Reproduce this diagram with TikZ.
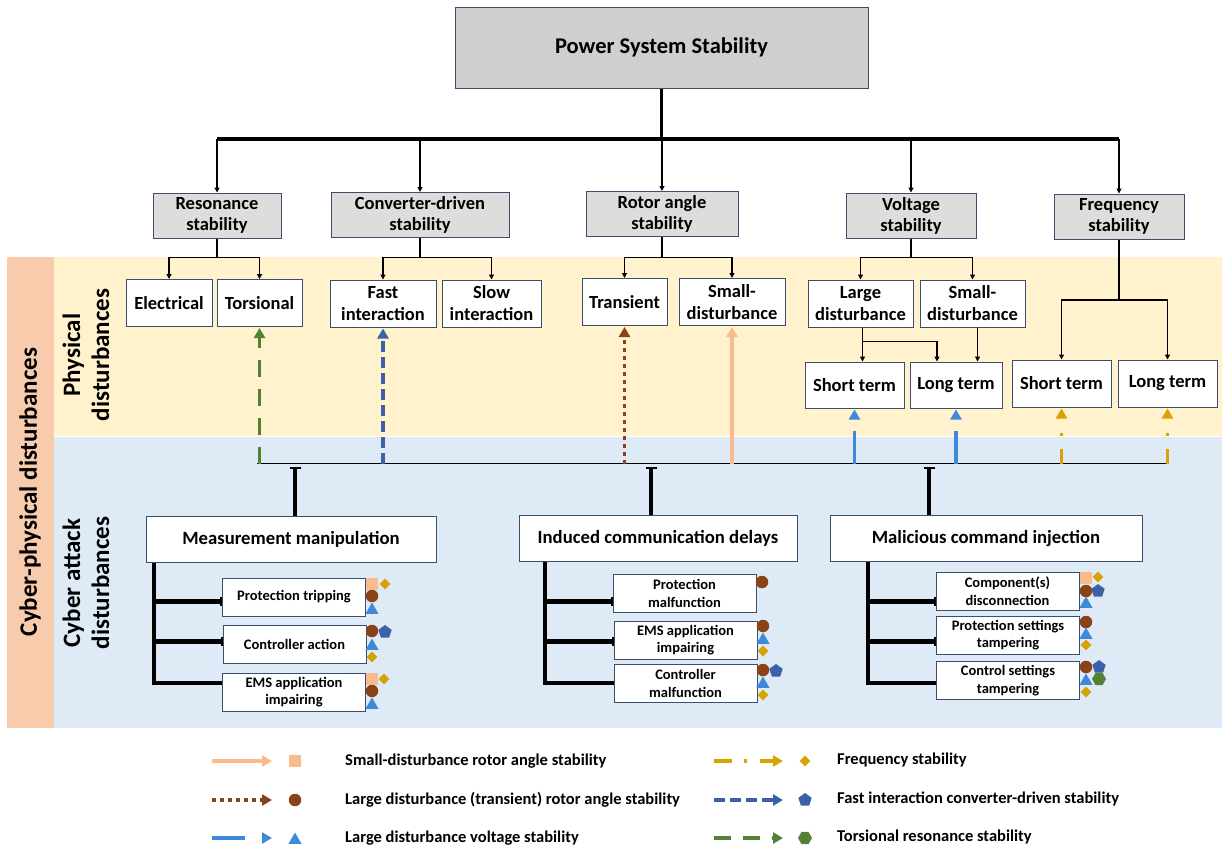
\documentclass[tikz,border=0pt]{standalone}
\usepackage{fontspec}
\setmainfont{Carlito}
\usetikzlibrary{arrows.meta,shapes.geometric}
\definecolor{peachbg}{HTML}{F8CBAD}
\definecolor{yellowbg}{HTML}{FFF2CC}
\definecolor{bluebg}{HTML}{DEEBF7}
\definecolor{topgray}{HTML}{D0CECE}
\definecolor{lgray}{HTML}{DEDCDC}
\definecolor{bord}{HTML}{3B4E6B}
\definecolor{cpeach}{HTML}{F8BB8E}
\definecolor{cbrown}{HTML}{8B4216}
\definecolor{cblue}{HTML}{3D8BD8}
\definecolor{cgold}{HTML}{D8A300}
\definecolor{cnavy}{HTML}{3B62A8}
\definecolor{cgreen}{HTML}{548235}
\begin{document}
\begin{tikzpicture}[x=1pt,y=-1pt,
 topbox/.style={draw=bord,fill=topgray,line width=1pt,inner sep=0pt,minimum width=413pt,minimum height=81pt,font=\fontsize{22.5}{26}\selectfont\bfseries},
 l2box/.style={draw=bord,fill=lgray,line width=1pt,inner sep=0pt,align=center,minimum height=45pt,font=\fontsize{18.5}{21}\selectfont\bfseries},
 wbox/.style={draw=bord,fill=white,line width=1pt,inner sep=0pt,align=center,minimum height=47pt,font=\fontsize{18.5}{22}\selectfont\bfseries},
 cbox/.style={draw=bord,fill=white,line width=1pt,inner sep=0pt,minimum height=46pt,font=\fontsize{18.7}{22}\selectfont\bfseries},
 sbox/.style={draw=bord,fill=white,line width=1pt,inner sep=0pt,align=center,minimum width=143pt,minimum height=38pt,font=\fontsize{14.5}{17.5}\selectfont\bfseries},
 vlab/.style={rotate=90,align=center,font=\fontsize{25}{29}\selectfont\bfseries},
 leg/.style={anchor=west,inner sep=0pt,font=\fontsize{16.5}{19}\selectfont\bfseries},
 drop/.style={line width=1.3pt,-{Triangle[length=5pt,width=5pt]}},
 busline/.style={line width=3.8pt},
 stemline/.style={line width=4.2pt,{Bar[width=11pt,line width=2pt]}-},
 subl/.style={line width=4.2pt},
 subt/.style={line width=4.2pt,-{Bar[width=9pt,line width=2pt]}},
 tipA/.style={-{Triangle[length=10pt,width=11pt]}},
 apeach/.style={draw=cpeach,line width=3.5pt,tipA},
 abrown/.style={draw=cbrown,line width=3.5pt,dash pattern=on 4pt off 4pt,tipA},
 ablue/.style={draw=cblue,line width=3.5pt,dash pattern=on 33pt off 40pt,tipA},
 agold/.style={draw=cgold,line width=3.5pt,dash pattern=on 15pt off 13pt on 3pt off 40pt,tipA},
 agoldleg/.style={draw=cgold,line width=3.5pt,dash pattern=on 18pt off 12pt on 3pt off 13pt on 40pt,tipA},
 anavy/.style={draw=cnavy,line width=3.5pt,dash pattern=on 11pt off 5pt,tipA},
 agreen/.style={draw=cgreen,line width=3.5pt,dash pattern=on 17pt off 12pt,tipA},
 msq/.style={rectangle,fill=cpeach,minimum size=12pt,inner sep=0pt},
 mci/.style={circle,fill=cbrown,minimum size=12.5pt,inner sep=0pt},
 mtr/.style={regular polygon,regular polygon sides=3,fill=cblue,minimum size=15pt,inner sep=0pt},
 mdi/.style={diamond,fill=cgold,minimum size=11pt,inner sep=0pt},
 mpe/.style={regular polygon,regular polygon sides=5,fill=cnavy,minimum size=14pt,inner sep=0pt},
 mhe/.style={regular polygon,regular polygon sides=6,fill=cgreen,minimum size=14pt,inner sep=0pt}
]
\useasboundingbox (0,0) rectangle (1222,852);
% backgrounds
\fill[peachbg] (7,257) rectangle (54,728);
\fill[yellowbg] (54,257) rectangle (1222,435.5);
\fill[bluebg] (54,437) rectangle (1222,728);

% vertical labels
\node[vlab] (cpd) at (30,492) {Cyber-physical disturbances};
\node[vlab] (phys) at (86,355) {Physical\\disturbances};
\node[vlab] (cyb) at (86,583) {Cyber attack\\disturbances};

% top
\node[topbox] (pss) at (661.5,47.5) {Power System Stability};
\node[l2box,minimum width=128pt] (res) at (217,215.5) {Resonance\\stability};
\node[l2box,minimum width=178pt] (conv) at (420,215) {Converter-driven\\stability};
\node[l2box,minimum width=152pt] (rot) at (662,214) {Rotor angle\\stability};
\node[l2box,minimum width=130pt] (volt) at (911,215.5) {Voltage\\stability};
\node[l2box,minimum width=130pt] (freq) at (1119,216.5) {Frequency\\stability};

\coordinate (busT) at (0,139);
\draw[busline] (pss.south) -- (pss.south |- busT);
\draw[busline] (busT -| res.north) -- (busT -| freq.north);
\foreach \n in {res,conv,rot,volt,freq}{\draw[drop] (busT -| \n.north) -- (\n.north);}

% level 3
\node[wbox,minimum width=86pt] (elec) at (169,303) {Electrical};
\node[wbox,minimum width=85pt] (tors) at (259.5,303) {Torsional};
\node[wbox,minimum width=106pt] (fast) at (383,303.5) {Fast\\interaction};
\node[wbox,minimum width=99pt] (slow) at (491.5,303.5) {Slow\\interaction};
\node[wbox,minimum width=85pt] (trans) at (624.5,302) {Transient};
\node[wbox,minimum width=106pt] (smallr) at (732,302) {Small-\\disturbance};
\node[wbox,minimum width=105pt] (large) at (860.5,303.5) {Large\\disturbance};
\node[wbox,minimum width=105pt] (smallv) at (972.5,303.5) {Small-\\disturbance};
\node[wbox,minimum width=99pt,minimum height=46pt] (stv) at (854.5,385) {Short term};
\node[wbox,minimum width=92pt,minimum height=46pt] (ltv) at (956,385) {Long term};
\node[wbox,minimum width=99pt] (stf) at (1061.5,383.5) {Short term};
\node[wbox,minimum width=99pt] (ltf) at (1167.5,383.5) {Long term};

\coordinate (yA) at (0,257.5);
\coordinate (yB) at (0,341.5);
\coordinate (yC) at (0,300);
\draw[drop] (res.south) -- (res.south |- yA) -| (elec.north);
\draw[drop] (res.south |- yA) -| (tors.north);
\draw[drop] (conv.south) -- (conv.south |- yA) -| (fast.north);
\draw[drop] (conv.south |- yA) -| (slow.north);
\draw[drop] (rot.south) -- (rot.south |- yA) -| (trans.north);
\draw[drop] (rot.south |- yA) -| (smallr.north);
\draw[drop] (volt.south) -- (volt.south |- yA) -| (large.north);
\draw[drop] (volt.south |- yA) -| (smallv.north);
\coordinate (lvA) at ([xshift=2pt]large.south);
\coordinate (ltA) at ([xshift=-19pt]ltv.north);
\coordinate (svA) at ([xshift=5pt]smallv.south);
\draw[drop] (lvA) -- (lvA |- stv.north);
\draw[drop] (lvA |- yB) -| (ltA);
\draw[drop] (svA) -- (svA |- ltv.north);
\draw[drop] (freq.south) -- (freq.south |- yC) -| (stf.north);
\draw[drop] (freq.south |- yC) -| (ltf.north);

% cyber bus
\coordinate (busL) at (257,463.5);
\coordinate (busR) at (1169,463.5);
\draw[line width=1.5pt] (busL) -- (busR);
\draw[agreen] (tors.south |- busL) -- ([yshift=-1pt]tors.south);
\draw[anavy] (fast.south |- busL) -- ([yshift=-1pt]fast.south);
\draw[abrown] (trans.south |- busL) -- ([yshift=-1pt]trans.south);
\draw[apeach] (smallr.south |- busL) -- ([yshift=-1pt]smallr.south);
\draw[ablue] (stv.south |- busL) -- ([yshift=-1pt]stv.south);
\draw[ablue] (ltv.south |- busL) -- ([yshift=-1pt]ltv.south);
\draw[agold] (stf.south |- busL) -- ([yshift=-1pt]stf.south);
\draw[agold] (ltf.south |- busL) -- ([yshift=-1pt]ltf.south);

% cyber boxes
\node[cbox,minimum width=290pt] (meas) at (291,539.5) {Measurement manipulation};
\node[cbox,minimum width=278pt] (ind) at (658,538) {Induced communication delays};
\node[cbox,minimum width=312pt] (mal) at (986,538) {Malicious command injection};
\coordinate (s1) at (295,466.5);
\coordinate (s2) at (651,466.5);
\coordinate (s3) at (929,466.5);
\draw[stemline] (s1) -- (s1 |- meas.north);
\draw[stemline] (s2) -- (s2 |- ind.north);
\draw[stemline] (s3) -- (s3 |- mal.north);

% sub boxes
\node[sbox] (pt) at (294,597) {Protection tripping};
\node[sbox] (ca) at (294.5,644) {Controller action};
\node[sbox] (ems1) at (294,692) {EMS application\\impairing};
\node[sbox] (pm) at (684.5,593.5) {Protection\\malfunction};
\node[sbox] (ems2) at (685.5,640) {EMS application\\impairing};
\node[sbox] (cm) at (685.5,683.5) {Controller\\malfunction};
\node[sbox] (cd) at (1007.5,591) {Component(s)\\disconnection};
\node[sbox] (pst) at (1008,635) {Protection settings\\tampering};
\node[sbox] (cst) at (1008,680.5) {Control settings\\tampering};

\coordinate (r1) at (0,601.5);
\coordinate (r2) at (0,641.5);
\coordinate (r3) at (0,683);
\coordinate (v1) at (154,0);
\coordinate (v2) at (545,0);
\coordinate (v3) at (868,0);
\draw[subl] (v1 |- meas.south) -- (v1 |- r3) -- (ems1.west |- r3);
\draw[subt] (v1 |- r1) -- (pt.west |- r1);
\draw[subt] (v1 |- r2) -- (ca.west |- r2);
\draw[subl] (v2 |- ind.south) -- (v2 |- r3) -- (cm.west |- r3);
\draw[subt] (v2 |- r1) -- (pm.west |- r1);
\draw[subt] (v2 |- r2) -- (ems2.west |- r2);
\draw[subl] (v3 |- mal.south) -- (v3 |- r3) -- (cst.west |- r3);
\draw[subt] (v3 |- r1) -- (cd.west |- r1);
\draw[subt] (v3 |- r2) -- (pst.west |- r2);

% markers: measurement
\node[msq] (a1) at (372,584) {};
\node[mdi] (a2) at (385,584) {};
\node[mci] (a3) at (372,596) {};
\node[mtr] (a4) at (372,610) {};
\node[mci] (b1) at (372,631) {};
\node[mpe] (b2) at (385,632) {};
\node[mtr] (b3) at (372,646) {};
\node[mdi] (b4) at (372,657) {};
\node[msq] (c1) at (372,679) {};
\node[mdi] (c2) at (384,679) {};
\node[mci] (c3) at (372,691) {};
\node[mtr] (c4) at (372,705) {};
% induced
\node[mci] (d1) at (762,582) {};
\node[mci] (e1) at (763,626) {};
\node[mtr] (e2) at (763,640) {};
\node[mdi] (e3) at (763,651) {};
\node[mci] (f1) at (763,670) {};
\node[mpe] (f2) at (776,671) {};
\node[mtr] (f3) at (763,684) {};
\node[mdi] (f4) at (763,695) {};
% malicious
\node[msq] (g1) at (1086,578) {};
\node[mdi] (g2) at (1098,577) {};
\node[mci] (g3) at (1086,591) {};
\node[mpe] (g4) at (1098,591) {};
\node[mtr] (g5) at (1086,604) {};
\node[mci] (h1) at (1086,622) {};
\node[mtr] (h2) at (1086,635) {};
\node[mdi] (h3) at (1086,645) {};
\node[mci] (i1) at (1086,667) {};
\node[mpe] (i2) at (1099,667) {};
\node[mhe] (i3) at (1099,679) {};
\node[mtr] (i4) at (1086,681) {};
\node[mdi] (i5) at (1086,692) {};

% legend
\coordinate (L1a) at (212,761); \coordinate (L1b) at (272,761);
\coordinate (L2a) at (212,800); \coordinate (L2b) at (272,800);
\coordinate (L3a) at (212,838); \coordinate (L3b) at (272,838);
\coordinate (R1a) at (714,761); \coordinate (R1b) at (783,761);
\coordinate (R2a) at (714,800); \coordinate (R2b) at (783,800);
\coordinate (R3a) at (714,838); \coordinate (R3b) at (783,838);
\draw[apeach] (L1a) -- (L1b);
\draw[abrown] (L2a) -- (L2b);
\draw[ablue] (L3a) -- (L3b);
\draw[agoldleg] (R1a) -- (R1b);
\draw[anavy] (R2a) -- (R2b);
\draw[agreen,dash pattern=on 17pt off 12pt] (R3a) -- (R3b);
\node[msq] (lm1) at (295,761) {};
\node[mci] (lm2) at (295,800) {};
\node[mtr] (lm3) at (295,840) {};
\node[mdi] (rm1) at (805,761) {};
\node[mpe] (rm2) at (805,800) {};
\node[mhe] (rm3) at (805,838) {};
\node[leg] (lt1) at (345,761) {Small-disturbance rotor angle stability};
\node[leg] (lt2) at (345,800) {Large disturbance (transient) rotor angle stability};
\node[leg] (lt3) at (345,838) {Large disturbance voltage stability};
\node[leg] (rt1) at (837,760) {Frequency stability};
\node[leg] (rt2) at (837,799) {Fast interaction converter-driven stability};
\node[leg] (rt3) at (837,837) {Torsional resonance stability};
\end{tikzpicture}
\end{document}
